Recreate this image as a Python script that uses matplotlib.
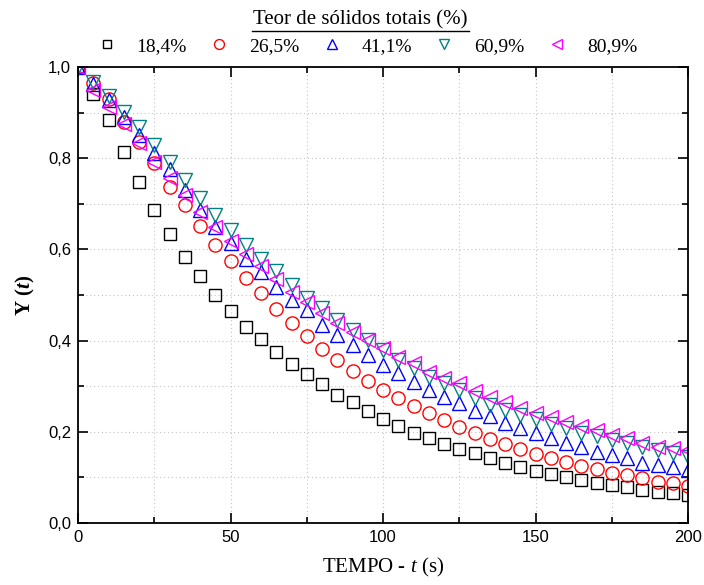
import matplotlib
matplotlib.use("Agg")
import matplotlib.pyplot as plt
from matplotlib.ticker import MultipleLocator, FuncFormatter
from matplotlib.lines import Line2D

t = list(range(0, 201, 5))

s184 = [1.0, 0.94, 0.884, 0.814, 0.748, 0.686, 0.634, 0.584, 0.541, 0.501, 0.465,
        0.430, 0.403, 0.375, 0.349, 0.327, 0.305, 0.281, 0.265, 0.246, 0.228,
        0.213, 0.197, 0.186, 0.173, 0.162, 0.153, 0.142, 0.132, 0.123, 0.114,
        0.107, 0.101, 0.094, 0.088, 0.083, 0.079, 0.072, 0.068, 0.066, 0.061]
s265 = [1.0, 0.965, 0.93, 0.88, 0.835, 0.79, 0.737, 0.697, 0.651, 0.61, 0.575,
        0.537, 0.504, 0.469, 0.439, 0.41, 0.382, 0.357, 0.333, 0.311, 0.292,
        0.274, 0.257, 0.241, 0.226, 0.21, 0.198, 0.184, 0.173, 0.163, 0.151,
        0.143, 0.134, 0.125, 0.118, 0.11, 0.105, 0.099, 0.09, 0.088, 0.081]
s411 = [1.0, 0.962, 0.928, 0.89, 0.851, 0.811, 0.776, 0.73, 0.686, 0.649, 0.614,
        0.578, 0.55, 0.518, 0.489, 0.467, 0.434, 0.412, 0.39, 0.368, 0.346,
        0.329, 0.309, 0.292, 0.276, 0.263, 0.246, 0.235, 0.219, 0.208, 0.197,
        0.186, 0.175, 0.167, 0.156, 0.149, 0.142, 0.132, 0.127, 0.123, 0.116]
s609 = [1.0, 0.967, 0.936, 0.901, 0.868, 0.829, 0.792, 0.752, 0.713, 0.675, 0.643,
        0.61, 0.58, 0.553, 0.522, 0.493, 0.471, 0.445, 0.423, 0.401, 0.379,
        0.357, 0.34, 0.32, 0.307, 0.292, 0.274, 0.259, 0.248, 0.237, 0.228,
        0.217, 0.208, 0.197, 0.191, 0.182, 0.175, 0.167, 0.16, 0.154, 0.145]
s809 = [1.0, 0.95, 0.912, 0.875, 0.833, 0.792, 0.757, 0.719, 0.682, 0.649, 0.618,
        0.59, 0.563, 0.535, 0.507, 0.485, 0.46, 0.439, 0.419, 0.401, 0.384,
        0.364, 0.351, 0.331, 0.318, 0.306, 0.29, 0.276, 0.265, 0.252, 0.241,
        0.232, 0.221, 0.213, 0.204, 0.193, 0.186, 0.175, 0.167, 0.164, 0.16]

labels = ["18,4%", "26,5%", "41,1%", "60,9%", "80,9%"]
series = [s184, s265, s411, s609, s809]
markers = ["s", "o", "^", "v", "<"]
colors = ["#000000", "#ff0000", "#0000ff", "#008080", "#ff00ff"]
sizes = [8.5, 9.5, 10.5, 10.5, 10.5]

SERIF = "Liberation Serif"
plt.rcParams["font.family"] = "Liberation Sans"
plt.rcParams["mathtext.fontset"] = "custom"
plt.rcParams["mathtext.rm"] = "Liberation Serif"
plt.rcParams["mathtext.it"] = "Liberation Serif:italic"
plt.rcParams["mathtext.bf"] = "Liberation Serif:bold"
plt.rcParams["mathtext.bfit"] = "Liberation Serif:italic:bold"

fig = plt.figure(figsize=(7.04, 5.85), dpi=100)
ax = fig.add_axes([78/704, 1-523/585, 610/704, 456/585])

for y, m, c, lab, ms in zip(series, markers, colors, labels, sizes):
    ax.plot(t, y, linestyle="none", marker=m, markersize=ms, markerfacecolor="none",
            markeredgecolor=c, markeredgewidth=1.0, label=lab)

ax.set_xlim(0, 200)
ax.set_ylim(0, 1.0)
ax.xaxis.set_major_locator(MultipleLocator(50))
ax.xaxis.set_minor_locator(MultipleLocator(25))
ax.yaxis.set_major_locator(MultipleLocator(0.2))
ax.yaxis.set_minor_locator(MultipleLocator(0.1))
ax.yaxis.set_major_formatter(FuncFormatter(lambda v, p: f"{v:.1f}".replace(".", ",")))
ax.tick_params(which="both", direction="in", top=True, right=True, width=1.2)
ax.tick_params(which="major", length=7, labelsize=12, pad=5)
ax.tick_params(which="minor", length=4)
ax.grid(which="both", linestyle=(0, (1, 2.5)), color="#c4c4c4", linewidth=0.8)
ax.set_axisbelow(True)
for sp in ax.spines.values():
    sp.set_linewidth(1.3)

ax.set_xlabel(r"TEMPO - $\mathit{t}$ (s)", fontsize=15, labelpad=8, family=SERIF)
ax.set_ylabel(r"Y ($\mathbfit{t}$)", fontsize=15, labelpad=8, fontweight="bold",
              family=SERIF)

leg = fig.legend(loc="center", bbox_to_anchor=(367/704, 1-46/585), ncol=5,
                 frameon=False, prop={"family": SERIF, "size": 14},
                 markerscale=0.75, handletextpad=1.05,
                 columnspacing=1.15, handlelength=1.0)

fig.text(360/704, 1-20/585, "Teor de sólidos totais (%)", ha="center", va="center",
         fontsize=15, family=SERIF)
fig.add_artist(Line2D([252/704, 469/704], [1-31/585, 1-31/585], color="black",
                      linewidth=1.0, transform=fig.transFigure))

fig.savefig("out.png", dpi=100)
